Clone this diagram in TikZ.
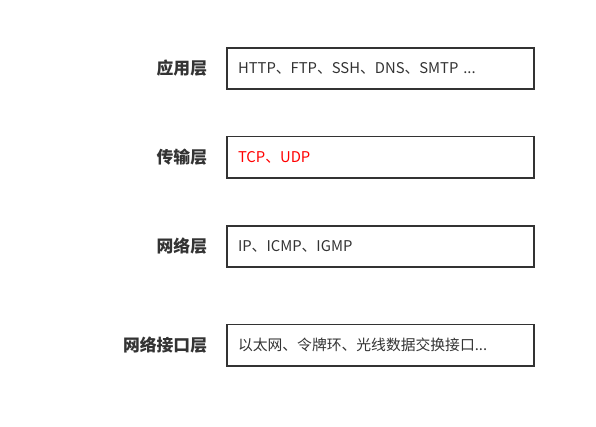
\documentclass[tikz,border=0pt]{standalone}
\usepackage{fontspec}
\setmainfont{Noto Sans CJK SC}
\usepackage{xcolor}
\usetikzlibrary{positioning}
\definecolor{boxline}{HTML}{333333}
\tikzstyle{layerbox} = [rectangle, draw=boxline, line width=1.5pt, minimum height=41.2pt, text width=285pt, inner xsep=11pt, align=left, font=\fontsize{14.8pt}{17pt}\selectfont, text=boxline]
\tikzstyle{layername} = [font=\bfseries\fontsize{16.8pt}{20pt}\selectfont, text=boxline, inner sep=0pt]

\begin{document}
\begin{tikzpicture}[x=1pt, y=1pt]
    \useasboundingbox (0,0) rectangle (596,-427);
    % 四层盒子
    \node (app) [layerbox] at (380.5,-68.6) {HTTP、FTP、SSH、DNS、SMTP ...};
    \node (trans) [layerbox, below=46pt of app, text=red] {TCP、UDP};
    \node (net) [layerbox, below=46.5pt of trans] {IP、ICMP、IGMP};
    \node (link) [layerbox, below=56pt of net] {以太网、令牌环、光线数据交换接口...};
    
    % 层名
    \node (appname) [layername, left=19pt of app] {应用层};
    \node (transname) [layername, left=19pt of trans] {传输层};
    \node (netname) [layername, left=19pt of net] {网络层};
    \node (linkname) [layername, left=19pt of link] {网络接口层};
\end{tikzpicture}
\end{document}
